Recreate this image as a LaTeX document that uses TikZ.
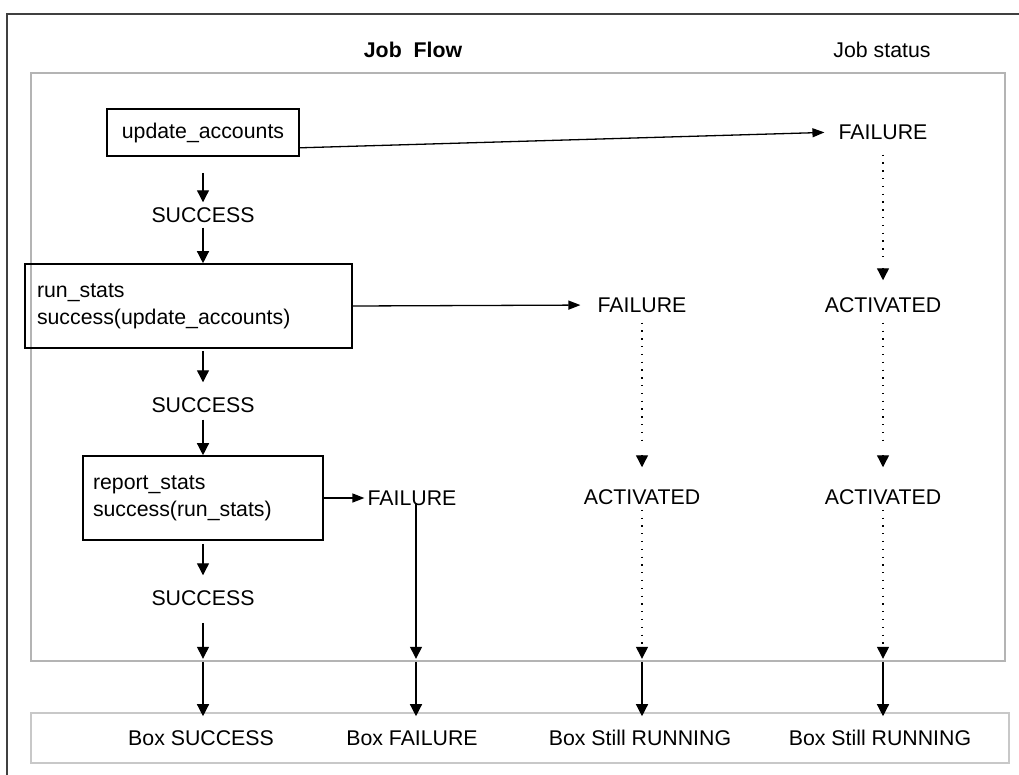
\documentclass[tikz,border=0pt]{standalone}
\usepackage{fontspec}
\setmainfont{Liberation Sans}
\usetikzlibrary{arrows.meta,calc}
\definecolor{darkframe}{HTML}{404040}
\definecolor{framegray}{HTML}{B4B4B4}
\definecolor{resultgray}{HTML}{C8C8C8}
\begin{document}
\begin{tikzpicture}[x=1pt,y=-1pt,
  every node/.style={font=\fontsize{21.3}{27}\selectfont, inner sep=0pt},
  jobbox/.style={draw=black, line width=1.6pt},
  arr/.style={line width=1.3pt, -{Triangle[length=12pt,width=12pt]}},
  harr/.style={line width=1.3pt, -{Triangle[length=12pt,width=9pt]}},
  dots/.style={line width=1.3pt, dash pattern=on 1.3pt off 6.5pt},
  tiponly/.style={line width=1.3pt, -{Triangle[length=12pt,width=12pt]}},
]
\useasboundingbox (0,0) rectangle (1019,774);
\fill[white] (0,0) rectangle (1019,774);

% outer frame (open to the right and bottom)
\draw[darkframe, line width=2pt] (7,780) -- (7,14) -- (1025,14);

% headings
\node[font=\bfseries\fontsize{21.3}{27}\selectfont] (title) at (413,50) {Job\ \ Flow};
\node (status) at (882,50) {Job status};

% job flow area and the box result strip
\node[draw=framegray, line width=1.6pt, minimum width=974pt, minimum height=588pt] (frame) at (518,367) {};
\node[draw=resultgray, line width=1.6pt, minimum width=978pt, minimum height=50pt] (result) at (520,738) {};

% jobs
\node[jobbox, minimum width=192pt, minimum height=47pt] (ua) at (203,132.5) {update\_accounts};
\node[jobbox, inner xsep=12pt, text width=303pt, minimum height=84pt, align=left] (rs) at (188.5,306)
  {run\_stats\\success(update\_accounts)};
\node[jobbox, inner xsep=10pt, text width=220pt, minimum height=84pt, align=left] (rp) at (203,498)
  {report\_stats\\success(run\_stats)};

% job states
\node (s1) at (203,215) {SUCCESS};
\node (s2) at (203,405) {SUCCESS};
\node (s3) at (203,598) {SUCCESS};
\node (f1) at (883,132) {FAILURE};
\node (f2) at (642,305) {FAILURE};
\node (f3) at (412,498) {FAILURE};
\node (a1) at (883,305) {ACTIVATED};
\node (a2) at (642,497) {ACTIVATED};
\node (a3) at (883,497) {ACTIVATED};
\coordinate (k2) at (416,503);

% box states
\node (b1) at (201,738) {Box SUCCESS};
\node (b2) at (412,738) {Box FAILURE};
\node (b3) at (640,738) {Box Still RUNNING};
\node (b4) at (880,738) {Box Still RUNNING};

% success chain
\draw[arr, shorten <=16pt, shorten >=5pt] (ua.south) -- (s1.north);
\draw[arr, shorten <=5pt] (s1.south) -- (s1 |- rs.north);
\draw[arr, shorten <=2pt, shorten >=15pt] (s1 |- rs.south) -- (s2.north);
\draw[arr, shorten <=7pt] (s2.south) -- (rp.north);
\draw[arr, shorten <=3pt, shorten >=15pt] (rp.south) -- (s3.north);
\draw[arr, shorten <=17pt, shorten >=3pt] (s3.south) -- (s3 |- frame.south);
\draw[arr, shorten >=-4pt] (s3 |- frame.south) -- (s3 |- result.north);

% failures
\draw[harr, shorten >=14pt] ($(ua.south east)+(0,-9)$) -- (f1.west);
\draw[harr, shorten >=17pt] (rs.east) -- (f2.west);
\draw[harr, shorten >=3pt] (rp.east) -- (f3.west);

% report_stats failure
\draw[arr, shorten >=3pt] (k2) -- (k2 |- frame.south);
\draw[arr, shorten >=-4pt] (k2 |- frame.south) -- (k2 |- result.north);

% run_stats failure column
\draw[dots, shorten <=10pt, shorten >=49pt] (f2.south) -- (a2.north);
\draw[tiponly] ($(a2.north)+(0,-34)$) -- ($(a2.north)+(0,-22)$);
\draw[dots, shorten <=5pt, shorten >=17pt] (a2.south) -- (a2 |- frame.south);
\draw[tiponly] ($(a2 |- frame.south)+(0,-15)$) -- ($(a2 |- frame.south)+(0,-3)$);
\draw[arr, shorten >=-4pt] (a2 |- frame.south) -- (a2 |- result.north);

% update_accounts failure column
\draw[dots, shorten <=15pt, shorten >=40pt] (f1.south) -- (a1.north);
\draw[tiponly] ($(a1.north)+(0,-29)$) -- ($(a1.north)+(0,-17)$);
\draw[dots, shorten <=10pt, shorten >=49pt] (a1.south) -- (a3.north);
\draw[tiponly] ($(a3.north)+(0,-34)$) -- ($(a3.north)+(0,-22)$);
\draw[dots, shorten <=5pt, shorten >=17pt] (a3.south) -- (a3 |- frame.south);
\draw[tiponly] ($(a3 |- frame.south)+(0,-15)$) -- ($(a3 |- frame.south)+(0,-3)$);
\draw[arr, shorten >=-4pt] (a3 |- frame.south) -- (a3 |- result.north);
\end{tikzpicture}
\end{document}
